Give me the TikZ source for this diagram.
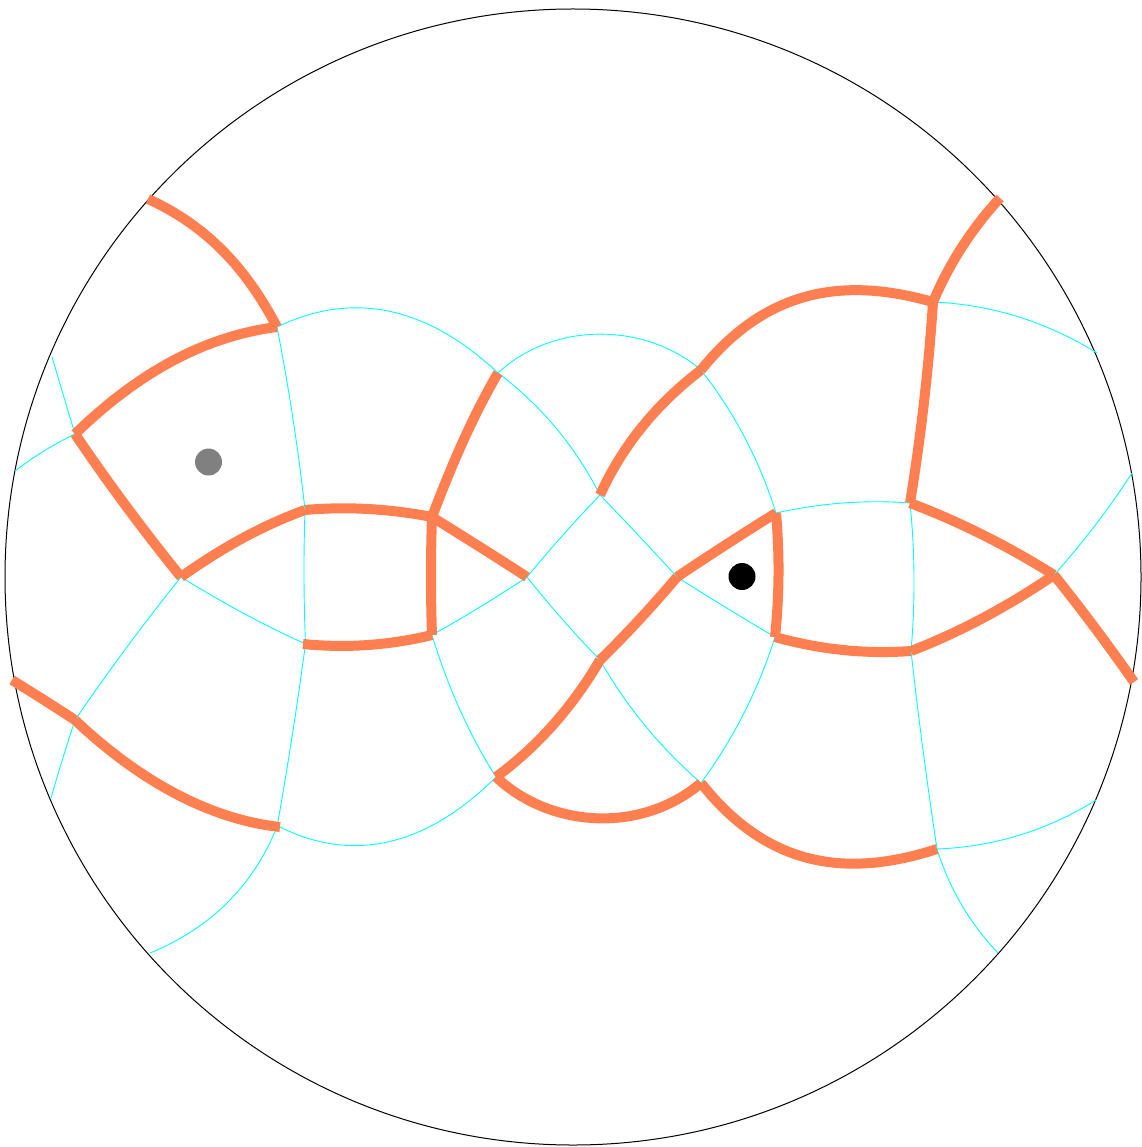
\documentclass[tikz,border=0pt]{standalone}
\usetikzlibrary{calc}
\definecolor{coral}{HTML}{FF7F50}
\definecolor{aqua}{HTML}{00FFFF}
\tikzset{
  thick edge/.style={draw=coral,line width=10pt,line cap=butt},
  thin edge/.style={draw=aqua,line width=0.9pt},
  rim/.style={draw=black,line width=1pt},
  dot/.style={circle,minimum size=27pt,inner sep=0pt},
}
% curve from node #2 through the middle point #3 to node #4
\newcommand\geo[4][thin edge]{\draw[#1] (#2) .. controls ($1.33333*#3-0.33333*(#4)$) and ($1.33333*#3-0.33333*(#2)$) .. (#4);}
% curve from node #2 through points #3 and #4 (at one and two thirds) to node #5
\newcommand\geoc[5][thin edge]{\draw[#1] (#2) .. controls ($3*#3-1.5*#4-0.83333*(#2)+0.33333*(#5)$) and ($3*#4-1.5*#3+0.33333*(#2)-0.83333*(#5)$) .. (#5);}
\begin{document}
\begin{tikzpicture}[x=1pt,y=-1pt]
\useasboundingbox (0,0) rectangle (1141,1147);
\coordinate (c0) at (573,577);
\draw[rim] (c0) circle[radius=568pt];
% vertices
\coordinate (a) at (148,199);
\coordinate (b) at (277,327);
\coordinate (d) at (75,434);
\coordinate (e) at (181,577);
\coordinate (f) at (305,510);
\coordinate (g) at (432,517);
\coordinate (h) at (498,373);
\coordinate (i) at (432,635);
\coordinate (j) at (527,577);
\coordinate (k) at (303,644);
\coordinate (k0) at (305.5,644);
\coordinate (l) at (12,680);
\coordinate (m) at (75,720);
\coordinate (n) at (280,827);
\coordinate (n0) at (277,827);
\coordinate (o) at (496,777);
\coordinate (p) at (600,660);
\coordinate (q) at (677,577);
\coordinate (r) at (776,513);
\coordinate (s) at (775,637);
\coordinate (t) at (911,651);
\coordinate (u) at (1054,575);
\coordinate (v) at (1134,682);
\coordinate (w) at (910,503);
\coordinate (x) at (933,302);
\coordinate (y) at (1000,198);
\coordinate (z) at (701,370);
\coordinate (aa) at (600,495);
\coordinate (ab) at (701,783);
\coordinate (ac) at (937,849);
\coordinate (t1) at (15,471);
\coordinate (t2) at (52,357);
\coordinate (t3) at (51,798);
\coordinate (t4) at (150,953);
\coordinate (t5) at (998,953);
\coordinate (t6) at (1096,800);
\coordinate (t7) at (1097,353);
\coordinate (t8) at (1132,473);
% thin edges
\geo{b}{(293,419)}{f}
\geo{f}{(304,577)}{k0}
\geo{k0}{(292,737)}{n0}
\geo{e}{(243,613)}{k0}
\geo{e}{(127,647)}{m}
\geo{d}{(44,451)}{t1}
\geo{d}{(63,394)}{t2}
\geo{m}{(62,761)}{t3}
\draw[thin edge] (b) .. controls (358,288) and (432,311) .. (h);
\draw[thin edge] (n) .. controls (358,866) and (432,841) .. (o);
\geo{n0}{(227,903)}{t4}
\geoc{h}{(564,338.3)}{(637,338.3)}{z}
\geo{h}{(556,428)}{aa}
\geo{aa}{(563,535)}{j}
\geo{aa}{(640,537)}{q}
\geo{j}{(480,607)}{i}
\geo{j}{(563,620)}{p}
\geo{i}{(460,710)}{o}
\geo{p}{(645,725.5)}{ab}
\geo{q}{(725,607)}{s}
\geo{s}{(744,713)}{ab}
\geo{z}{(745,438)}{r}
\geo{r}{(843,503)}{w}
\geo{w}{(914,577)}{t}
\geo{t}{(923,750)}{ac}
\geo{ac}{(961.5,904.6)}{t5}
\geo{ac}{(1020,835)}{t6}
\geo{x}{(1018,316.7)}{t7}
\geo{u}{(1095,525.5)}{t8}
% thick edges
\geoc[thick edge]{a}{(202,232)}{(244,275)}{b}
\geoc[thick edge]{b}{(202,347)}{(135,384)}{d}
\geo[thick edge]{d}{(126,506)}{e}
\geo[thick edge]{e}{(243,538)}{f}
\geo[thick edge]{f}{(368,509)}{g}
\geo[thick edge]{g}{(465,437)}{h}
\geo[thick edge]{g}{(431,576)}{i}
\geo[thick edge]{g}{(480,547)}{j}
\geo[thick edge]{i}{(368,645)}{k}
\geo[thick edge]{l}{(44,700)}{m}
\geoc[thick edge]{m}{(135,769)}{(204,807)}{n}
\geo[thick edge]{o}{(553,725)}{p}
\geo[thick edge]{p}{(639,620)}{q}
\geo[thick edge]{q}{(727,544)}{r}
\geo[thick edge]{r}{(778.5,575)}{s}
\geo[thick edge]{s}{(843,650)}{t}
\geo[thick edge]{t}{(983,618)}{u}
\geo[thick edge]{u}{(1095,628)}{v}
\geo[thick edge]{w}{(983,535)}{u}
\geo[thick edge]{x}{(924,402)}{w}
\geo[thick edge]{x}{(962,247)}{y}
\draw[thick edge] (z) .. controls (767,288) and (845,277) .. (x);
\geo[thick edge]{aa}{(642,427)}{z}
\draw[thick edge] (o) .. controls (550,828) and (641,834) .. (ab);
\draw[thick edge] (ab) .. controls (768,868) and (848,878) .. (ac);
% dots
\node[dot,fill=gray] (dotg) at (208.5,462) {};
\node[dot,fill=black] (dotb) at (742,576.5) {};
\end{tikzpicture}
\end{document}
